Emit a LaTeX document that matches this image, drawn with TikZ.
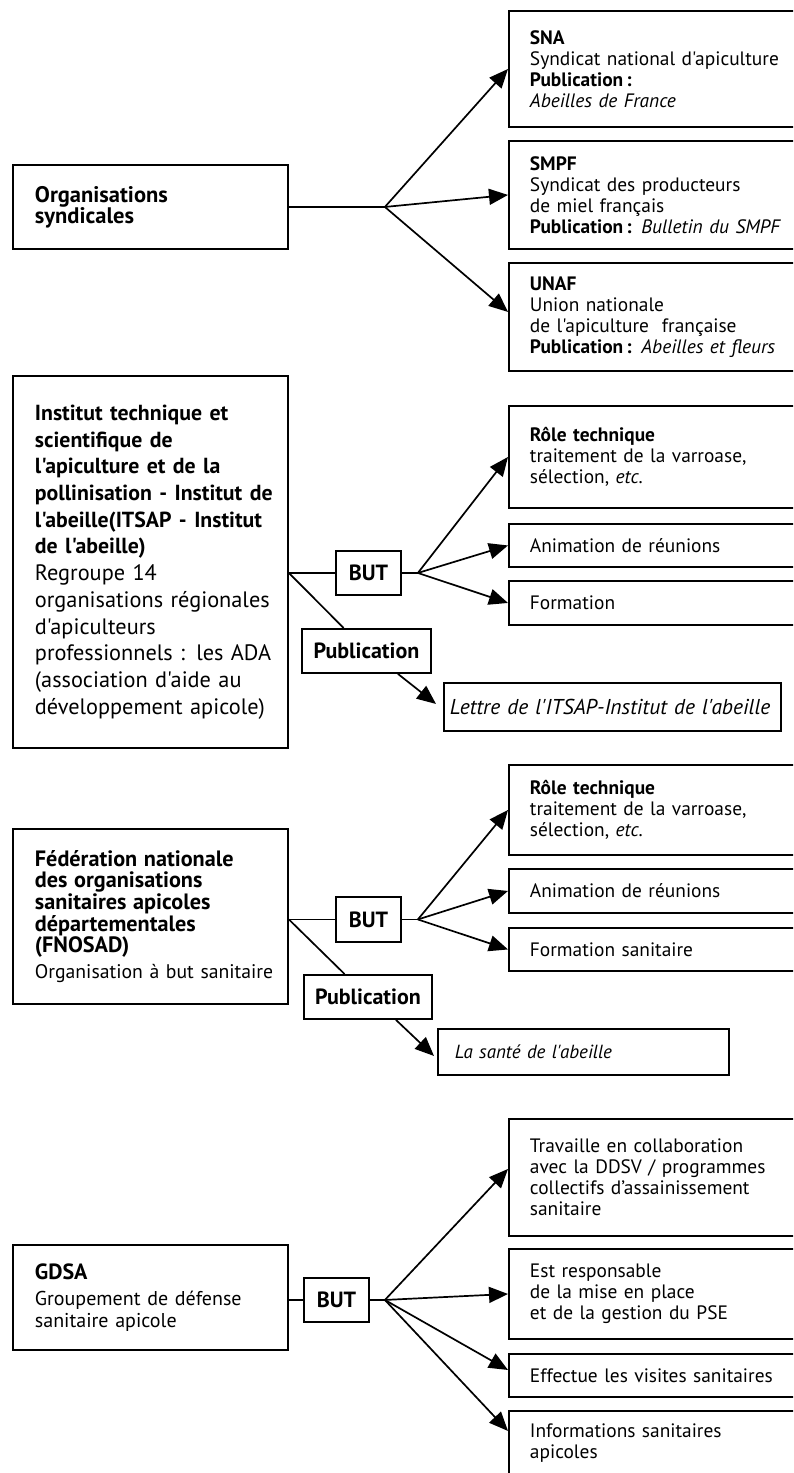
\documentclass[tikz,border=0pt]{standalone}
\usepackage{fontspec}
\setmainfont{PT Sans}[Ligatures=TeXOff]
\usetikzlibrary{arrows.meta}
\newcommand{\fs}[2]{\fontsize{#1pt}{#2pt}\selectfont\lineskiplimit=-100pt\relax}
\newcommand{\pubc}{\textbf{Publication\thinspace:}}
\newcommand{\lin}[1][22pt]{\leftskip=#1\rightskip=-60pt plus 1fil\hyphenpenalty=10000\relax}
\tikzset{
  box/.style={draw=black, line width=1.9pt, anchor=north west, inner ysep=0pt, align=left, text=black},
  rbox/.style={box, inner xsep=21pt, text width=258pt, font=\fs{19.4}{21}},
  lbox/.style={box, inner xsep=0pt, text width=275pt, font=\fs{20}{21.7}},
  tag/.style={box, inner xsep=0pt, align=center, font=\bfseries\fs{22}{22}},
  pbox/.style={box, inner xsep=0pt, font=\itshape\fs{19}{21}},
  ln/.style={line width=1.7pt, draw=black},
  arr/.style={ln, -{Triangle[length=19pt,width=16pt]}},
}
\begin{document}
\begin{tikzpicture}[x=1pt,y=-1pt]
\clip (0,0) rectangle (793,1473);
\fill[white] (0,0) rectangle (793,1473);

% ---------- Section 1 ----------
\node[lbox, minimum height=84pt] (synd) at (12,164)
  {\lin\fontsize{22.5pt}{21pt}\selectfont\bfseries Organisations\\syndicales\par};
\node[rbox, minimum width=300pt, minimum height=116pt] (sna) at (508,10)
  {\textbf{SNA}\\Syndicat national d'apiculture\\\pubc\\\textit{Abeilles de France}};
\node[rbox, minimum width=300pt, minimum height=108pt] (smpf) at (508,140)
  {\textbf{SMPF}\\Syndicat des producteurs\\de miel français\\\pubc{} \textit{Bulletin du SMPF}};
\node[rbox, minimum width=300pt, minimum height=108pt] (unaf) at (508,262)
  {\textbf{UNAF}\\Union nationale\\de l'apiculture\ \ française\\\pubc{} \textit{Abeilles et fleurs}};
\coordinate (b1) at ([xshift=96pt]synd.east);
\draw[ln] (synd.east) -- (b1);
\draw[arr] (b1) -- (sna.west);
\draw[arr] (b1) -- (smpf.west);
\draw[arr] (b1) -- ([yshift=5pt]unaf.west);

% ---------- Section 2 ----------
\node[lbox, minimum height=372pt, font=\fs{22.3}{26.7}] (itsap) at (12,375)
  {\lin{\fontsize{21.8pt}{26.7pt}\selectfont\bfseries Institut technique et\\scientifique de\\l'apiculture et de la\\pollinisation - Institut de\\l'abeille(ITSAP - Institut\\de l'abeille)\\}Regroupe 14\\organisations régionales\\d'apiculteurs\\professionnels : les ADA\\(association d'aide au\\développement apicole)\par};
\node[tag, minimum width=65pt, minimum height=44pt] (but1) at (335,550) {BUT};
\node[rbox, minimum width=300pt, minimum height=102pt] (role1) at (508,405)
  {\textbf{Rôle technique}\\traitement de la varroase,\\sélection, \textit{etc.}};
\node[rbox, minimum width=300pt, minimum height=43pt] (anim1) at (508,523) {Animation de réunions};
\node[rbox, minimum width=300pt, minimum height=44pt] (form1) at (508,580) {Formation};
\node[tag, minimum width=129pt, minimum height=44pt] (pub1) at (301,628) {Publication};
\node[pbox, text width=337pt, minimum height=48pt, font=\itshape\fs{21.5}{21}] (lettre) at (443,682)
  {\lin[6pt]Lettre de l'ITSAP-Institut de l'abeille\par};
\coordinate (j2) at (itsap.east |- but1.west);
\coordinate (b2) at ([xshift=16pt]but1.east);
\draw[ln] (j2) -- (but1.west);
\draw[ln] (but1.east) -- (b2);
\draw[arr] (b2) -- (role1.west);
\draw[arr] (b2) -- (anim1.west);
\draw[arr] (b2) -- (form1.west);
\draw[ln] (j2) -- (pub1);
\draw[arr] ([xshift=31.5pt]pub1.south) -- ([xshift=-7pt,yshift=3pt]lettre.west);

% ---------- Section 3 ----------
\node[lbox, minimum height=175pt] (fnosad) at (12,828)
  {\lin{\fontsize{22.2pt}{21.7pt}\selectfont\bfseries Fédération nationale\\des organisations\\sanitaires apicoles\\départementales\\(FNOSAD)\\[4pt]}\fontsize{19.7pt}{21.7pt}\selectfont Organisation à but sanitaire\par};
\node[tag, minimum width=65pt, minimum height=45pt] (but2) at (335,896) {BUT};
\node[rbox, minimum width=300pt, minimum height=90pt] (role2) at (508,764)
  {\textbf{Rôle technique}\\traitement de la varroase,\\sélection, \textit{etc.}};
\node[rbox, minimum width=300pt, minimum height=44pt] (anim2) at (508,868) {Animation de réunions};
\node[rbox, minimum width=300pt, minimum height=43pt] (form2) at (508,927) {Formation sanitaire};
\node[tag, minimum width=128pt, minimum height=44pt] (pub2) at (303,974) {Publication};
\node[pbox, text width=291pt, minimum height=46pt] (sante) at (437,1028)
  {\lin[17pt]La santé de l'abeille\par};
\coordinate (j3) at (fnosad.east |- but2.west);
\coordinate (b3) at ([xshift=16pt]but2.east);
\draw[ln] (j3) -- (but2.west);
\draw[ln] (but2.east) -- (b3);
\draw[arr] (b3) -- (role2.west);
\draw[arr] (b3) -- (anim2.west);
\draw[arr] (b3) -- (form2.west);
\draw[ln] (j3) -- (pub2);
\draw[arr] ([xshift=28pt]pub2.south) -- ([xshift=-3pt,yshift=-4pt]sante.west);

% ---------- Section 4 ----------
\node[lbox, minimum height=105pt] (gdsa) at (12,1244)
  {\lin{\fontsize{22pt}{21pt}\selectfont\bfseries GDSA\\[4pt]}Groupement de défense\\sanitaire apicole\par};
\node[tag, minimum width=65pt, minimum height=44pt] (but3) at (303,1277) {BUT};
\node[rbox, minimum width=300pt, minimum height=117pt] (trav) at (508,1118)
  {Travaille en collaboration\\avec la DDSV / programmes\\collectifs d’assainissement\\sanitaire};
\node[rbox, minimum width=300pt, minimum height=90pt] (resp) at (508,1248)
  {Est responsable\\de la mise en place\\et de la gestion du PSE};
\node[rbox, minimum width=300pt, minimum height=43pt] (eff) at (508,1353) {Effectue les visites sanitaires};
\node[rbox, minimum width=300pt, minimum height=65pt] (info) at (508,1410)
  {Informations sanitaires\\apicoles};
\coordinate (j4) at (gdsa.east |- but3.west);
\coordinate (b4) at ([xshift=15pt]but3.east);
\draw[ln] (j4) -- (but3.west);
\draw[ln] (but3.east) -- (b4);
\draw[arr] (b4) -- ([yshift=8.5pt]trav.west);
\draw[arr] (b4) -- (resp.west);
\draw[arr] (b4) -- ([yshift=5.5pt]eff.west);
\draw[arr] (b4) -- ([yshift=12.5pt]info.west);
\end{tikzpicture}
\end{document}
